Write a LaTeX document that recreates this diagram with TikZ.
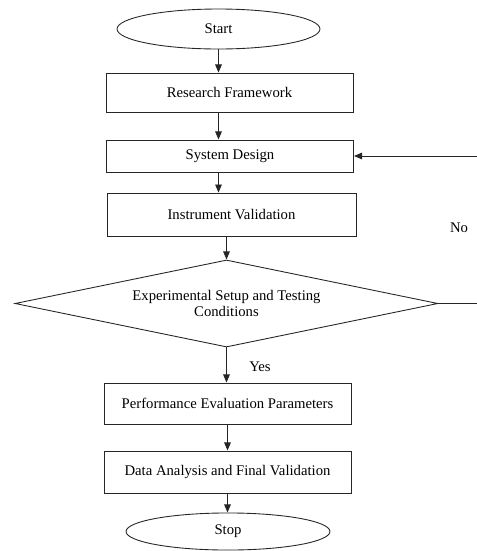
\documentclass[tikz,border=0pt]{standalone}
\usepackage{fontspec}
\setmainfont{Liberation Serif}
\usetikzlibrary{arrows.meta,shapes.geometric}

\begin{document}
\begin{tikzpicture}[x=0.68pt, y=-0.68pt,
  line/.style={draw=black!85, line width=0.6pt},
  arr/.style={line, -{Triangle[length=5.5pt,width=4.5pt]}},
  procbox/.style={line, rectangle, minimum width=168pt, inner sep=2pt, font=\fontsize{10}{12}\selectfont},
  terminal/.style={line, ellipse, inner sep=1pt, font=\fontsize{10}{12}\selectfont},
  decision/.style={line, diamond, aspect=4.86, inner sep=0pt, align=center,
    minimum width=287.6pt, minimum height=59.2pt, font=\fontsize{10}{10.5}\selectfont},
  lbl/.style={font=\fontsize{10}{12}\selectfont}]
\useasboundingbox (0,0) rectangle (477,551);
%\draw[help lines, step=50] (0,0) grid (477,551);

\node[terminal, minimum width=138pt, minimum height=27.2pt] (start) at (218.5,29) {Start};
\node[procbox, minimum height=26.5pt] (rf) at (229.5,92.5) {Research Framework};
\node[procbox, minimum height=21.8pt] (sys) at (230,156) {System Design};
\node[procbox, minimum height=29.2pt, minimum width=169.3pt] (iv) at (231.5,214.5) {Instrument Validation};
\node[decision] (dia) at (226.5,303.5) {Experimental Setup and Testing\\Conditions};
\node[procbox, minimum height=27.9pt] (perf) at (227.5,403.5) {Performance Evaluation Parameters};
\node[procbox, minimum height=28.6pt] (data) at (227.5,472) {Data Analysis and Final Validation};
\node[terminal, minimum width=138.7pt, minimum height=25.2pt] (stop) at (228,531.5) {Stop};

\node[lbl] (no) at (459,228) {No};
\node[lbl] (yes) at (260,367) {Yes};

\coordinate (noR) at (477,303.5);
\coordinate (noT) at (477,156);

\draw[arr] (start.south) -- (start.south |- rf.north);
\draw[arr] (start.south |- rf.south) -- (start.south |- sys.north);
\draw[arr] (start.south |- sys.south) -- (start.south |- iv.north);
\draw[arr] (dia.north |- iv.south) -- (dia.north);
\draw[arr] (dia.south) -- (dia.south |- perf.north);
\draw[arr] (perf.south) -- (perf.south |- data.north);
\draw[arr] (data.south) -- (data.south |- stop.north);

% loop back on No
\draw[line] (dia.east) -- (noR);
\draw[arr] (noT) -- (sys.east);

\end{tikzpicture}
\end{document}
